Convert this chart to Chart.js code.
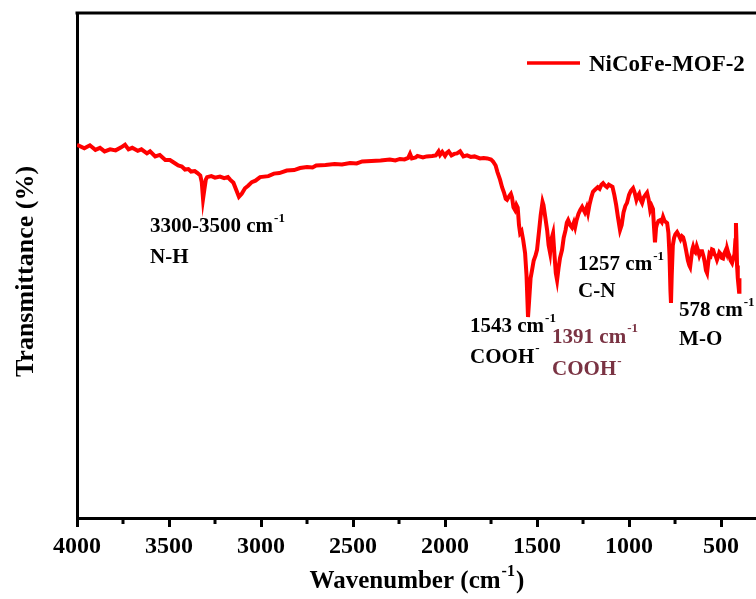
<!DOCTYPE html>
<html>
<head>
<meta charset="utf-8">
<script src="https://cdn.jsdelivr.net/npm/chart.js@4.4.1/dist/chart.umd.min.js"></script>
<style>
    html, body { margin: 0; padding: 0; background: #fff; overflow: hidden; }
</style>
</head>
<body>
<canvas id="grafico-ftir" width="756" height="599"></canvas>
<script>
const numerosOnda = [
    4000, 3960, 3930, 3900, 3875, 3850, 3820, 3790, 3760, 3739, 3720, 3700, 3670, 3650, 3620, 3603,
    3575, 3550, 3520, 3495, 3470, 3450, 3430, 3413, 3395, 3380, 3360, 3345, 3330, 3322, 3315, 3308,
    3300, 3293, 3270, 3250, 3223, 3200, 3180, 3168, 3150, 3135, 3120, 3105, 3087, 3070, 3050, 3030,
    3005, 2960, 2930, 2900, 2860, 2820, 2788, 2750, 2720, 2700, 2650, 2600, 2560, 2516, 2480, 2450,
    2400, 2350, 2300, 2270, 2245, 2220, 2200, 2190, 2180, 2160, 2150, 2120, 2100, 2070, 2050, 2035,
    2027, 2015, 2000, 1990, 1980, 1965, 1950, 1935, 1918, 1900, 1880, 1860, 1840, 1810, 1790, 1770,
    1750, 1739, 1725, 1715, 1701, 1690, 1680, 1670, 1663, 1650, 1642, 1636, 1628, 1620, 1612, 1605,
    1598, 1592, 1584, 1575, 1565, 1557, 1549, 1543, 1535, 1527, 1518, 1508, 1500, 1490, 1480, 1470,
    1465, 1455, 1445, 1437, 1429, 1422, 1413, 1405, 1398, 1391, 1383, 1375, 1364, 1355, 1345, 1338,
    1331, 1320, 1310, 1300, 1293, 1285, 1275, 1265, 1255, 1247, 1240, 1230, 1223, 1215, 1205, 1196,
    1185, 1170, 1160, 1150, 1141, 1130, 1120, 1110, 1100, 1090, 1080, 1070, 1060, 1049, 1040, 1030,
    1020, 1011, 1000, 990, 978, 970, 960, 952, 945, 937, 929, 920, 910, 902, 893, 885,
    877, 870, 865, 859, 853, 848, 840, 830, 822, 815, 808, 800, 793, 786, 780, 775,
    772, 768, 762, 755, 748, 739, 730, 720, 712, 706, 698, 690, 680, 672, 668, 662,
    656, 652, 645, 640, 632, 625, 618, 610, 603, 595, 588, 582, 576, 570, 563, 556,
    549, 543, 536, 530, 522, 515, 509, 502, 495, 489, 482, 475, 470, 467, 461, 455,
    448, 440, 433, 427, 422, 419, 416, 413, 409, 405, 402, 400
];
const transmitancia = [
    73.9, 73.2, 73.8, 72.9, 73.3, 72.6, 73.0, 72.8, 73.4, 73.9, 73.0, 73.3, 72.7, 73.0, 72.2, 72.6,
    71.6, 71.9, 70.9, 70.9, 70.3, 69.8, 69.6, 69.0, 69.1, 68.6, 68.7, 68.3, 67.8, 66.5, 63.2, 65.0,
    67.0, 67.5, 67.7, 67.4, 67.6, 67.3, 67.5, 67.0, 66.4, 65.0, 63.6, 64.2, 65.3, 65.8, 66.5, 66.8,
    67.5, 67.7, 68.2, 68.3, 68.8, 68.9, 69.3, 69.5, 69.4, 69.8, 69.9, 70.1, 70.0, 70.3, 70.2, 70.6,
    70.7, 70.8, 71.0, 70.8, 71.1, 71.0, 71.3, 72.1, 71.2, 71.4, 71.7, 71.4, 71.6, 71.7, 71.8, 72.6,
    71.9, 72.5, 71.7, 72.3, 72.6, 71.8, 72.1, 72.2, 72.6, 71.6, 71.8, 71.5, 71.6, 71.2, 71.3, 71.2,
    71.0, 70.6, 69.8, 68.5, 67.0, 65.5, 64.5, 63.2, 63.0, 63.8, 64.2, 63.5, 61.5, 61.0, 62.0, 61.5,
    58.0, 56.4, 56.8, 55.0, 52.5, 48.0, 39.8, 43.0, 47.5, 49.1, 51.0, 52.0, 53.1, 56.5, 60.0, 62.6,
    62.0, 59.5, 57.0, 54.0, 52.5, 55.2, 56.4, 52.0, 48.5, 47.1, 49.5, 51.5, 53.1, 55.5, 57.0, 58.5,
    59.0, 58.0, 57.5, 58.5, 57.6, 59.0, 60.2, 61.0, 61.6, 61.0, 60.5, 61.5, 60.4, 62.0, 63.5, 64.6,
    65.0, 65.5, 65.2, 66.0, 66.3, 65.8, 65.5, 66.0, 65.8, 65.6, 64.0, 62.0, 59.5, 57.0, 58.0, 60.5,
    61.8, 62.4, 64.0, 64.8, 65.3, 64.5, 63.0, 63.8, 64.2, 63.0, 62.4, 63.5, 64.0, 64.4, 63.0, 61.0,
    61.8, 61.2, 58.0, 54.6, 57.5, 58.2, 58.8, 59.0, 58.6, 59.6, 58.9, 58.6, 58.4, 56.5, 52.0, 45.0,
    42.6, 48.0, 54.0, 55.5, 56.2, 56.6, 56.0, 55.2, 55.8, 55.6, 54.5, 53.0, 51.0, 50.0, 49.7, 51.5,
    53.2, 53.7, 52.8, 52.6, 53.8, 53.0, 52.0, 52.8, 52.8, 51.8, 50.5, 49.0, 48.5, 50.5, 52.3, 52.0,
    53.2, 53.1, 52.2, 52.0, 51.1, 51.8, 52.6, 52.3, 51.5, 51.4, 52.4, 53.0, 52.5, 53.3, 52.5, 52.0,
    51.0, 50.5, 51.5, 52.2, 55.0, 58.4, 55.0, 50.0, 47.5, 46.0, 44.8, 47.5
];
const marcasX = [4000, 3500, 3000, 2500, 2000, 1500, 1000, 500];
const marcasMenores = [3750, 3250, 2750, 2250, 1750, 1250, 750];
const nombreSerie = 'NiCoFe-MOF-2';

// Etiquetas de bandas (posición en número de onda / transmitancia)
const anotaciones = [
    { texto: '3300-3500 cm', sup: '-1', x: 3603, y: 56.6, color: '#000' },
    { texto: 'N-H', sup: '', x: 3603, y: 50.5, color: '#000' },
    { texto: '1257 cm', sup: '-1', x: 1277, y: 49.1, color: '#000' },
    { texto: 'C-N', sup: '', x: 1277, y: 43.8, color: '#000' },
    { texto: '1543 cm', sup: '-1', x: 1864, y: 36.8, color: '#000' },
    { texto: 'COOH', sup: '-', x: 1864, y: 30.7, color: '#000' },
    { texto: '1391 cm', sup: '-1', x: 1418, y: 34.7, color: '#7a3343' },
    { texto: 'COOH', sup: '-', x: 1418, y: 28.3, color: '#7a3343' },
    { texto: '578 cm', sup: '-1', x: 728, y: 40.0, color: '#000' },
    { texto: 'M-O', sup: '', x: 728, y: 34.3, color: '#000' }
];

const fuente = "'Liberation Serif', 'Times New Roman', serif";

// Escribe texto con un superíndice pequeño
function textoConSup(ctx, texto, sup, x, y, tam) {
    ctx.font = 'bold ' + tam + 'px ' + fuente;
    ctx.fillText(texto, x, y);
    let ancho = ctx.measureText(texto).width;
    if (sup) {
        ctx.font = 'bold ' + Math.round(tam * 0.62) + 'px ' + fuente;
        ctx.fillText(sup, x + ancho + 1, y - tam * 0.5);
        ancho += ctx.measureText(sup).width + 1;
    }
    return ancho;
}

const pluginDecoracion = {
    id: 'decoracion',
    afterDraw(chart) {
        const ctx = chart.ctx;
        const area = chart.chartArea;
        const ejeX = chart.scales.x;
        const ejeY = chart.scales.y;
        ctx.save();
        ctx.fillStyle = '#000';
        ctx.strokeStyle = '#000';

        // marco superior
        ctx.lineWidth = 3;
        ctx.beginPath();
        ctx.moveTo(area.left - 1.5, area.top);
        ctx.lineTo(area.right, area.top);
        ctx.stroke();

        // marcas menores del eje x
        ctx.lineWidth = 3;
        marcasMenores.forEach(v => {
            const px = ejeX.getPixelForValue(v);
            ctx.beginPath();
            ctx.moveTo(px, area.bottom);
            ctx.lineTo(px, area.bottom + 6);
            ctx.stroke();
        });

        // anotaciones de bandas
        ctx.textBaseline = 'alphabetic';
        ctx.textAlign = 'left';
        anotaciones.forEach(a => {
            ctx.fillStyle = a.color;
            textoConSup(ctx, a.texto, a.sup, ejeX.getPixelForValue(a.x), ejeY.getPixelForValue(a.y), 21);
        });

        // título eje x
        ctx.fillStyle = '#000';
        ctx.font = 'bold 25px ' + fuente;
        const w1 = ctx.measureText('Wavenumber (cm').width;
        ctx.font = 'bold 15px ' + fuente;
        const w2 = ctx.measureText('-1').width;
        ctx.font = 'bold 25px ' + fuente;
        const w3 = ctx.measureText(')').width;
        let xi = (area.left + area.right) / 2 - (w1 + w2 + w3 + 2) / 2;
        const yBase = 588;
        const anchoSup = textoConSup(ctx, 'Wavenumber (cm', '-1', xi, yBase, 25);
        ctx.font = 'bold 25px ' + fuente;
        ctx.fillText(')', xi + anchoSup + 1, yBase);

        // título eje y
        ctx.save();
        ctx.translate(26, (area.top + area.bottom) / 2 + 6);
        ctx.rotate(-Math.PI / 2);
        ctx.textAlign = 'center';
        ctx.textBaseline = 'middle';
        ctx.font = 'bold 26px ' + fuente;
        ctx.fillText('Transmittance (%)', 0, 0);
        ctx.restore();

        // leyenda
        const ds = chart.data.datasets[0];
        ctx.strokeStyle = ds.borderColor;
        ctx.lineWidth = 3.5;
        ctx.beginPath();
        ctx.moveTo(527, 63);
        ctx.lineTo(580, 63);
        ctx.stroke();
        ctx.fillStyle = '#000';
        ctx.font = 'bold 23px ' + fuente;
        ctx.textBaseline = 'alphabetic';
        ctx.fillText(ds.label, 589, 71);

        ctx.restore();
    }
};

const graficoFtir = new Chart(document.getElementById('grafico-ftir'), {
    type: 'line',
    data: {
        datasets: [{
            label: nombreSerie,
            data: numerosOnda.map((x, i) => ({ x: x, y: transmitancia[i] })),
            borderColor: '#ff0000',
            borderWidth: 4,
            pointRadius: 0,
            tension: 0,
            fill: false
        }]
    },
    options: {
        responsive: false,
        animation: false,
        devicePixelRatio: 1,
        layout: { padding: { top: 13, right: 0, left: 0, bottom: 0 } },
        plugins: {
            legend: { display: false },
            tooltip: { enabled: false }
        },
        scales: {
            x: {
                type: 'linear',
                reverse: true,
                min: 310,
                max: 4000,
                afterBuildTicks: eje => { eje.ticks = marcasX.map(v => ({ value: v })); },
                afterFit: eje => { eje.height = 81; },
                ticks: {
                    color: '#000',
                    padding: 5,
                    maxRotation: 0,
                    autoSkip: false,
                    callback: v => String(v),
                    font: { family: fuente, size: 24, weight: 'bold' }
                },
                grid: { drawOnChartArea: false, tickLength: 9, tickWidth: 3, tickColor: '#000' },
                border: { color: '#000', width: 3 }
            },
            y: {
                min: 0,
                max: 100,
                afterFit: eje => { eje.width = 77; },
                ticks: { display: false },
                grid: { display: false, drawTicks: false },
                border: { color: '#000', width: 3 }
            }
        }
    },
    plugins: [pluginDecoracion]
});
</script>
</body>
</html>
